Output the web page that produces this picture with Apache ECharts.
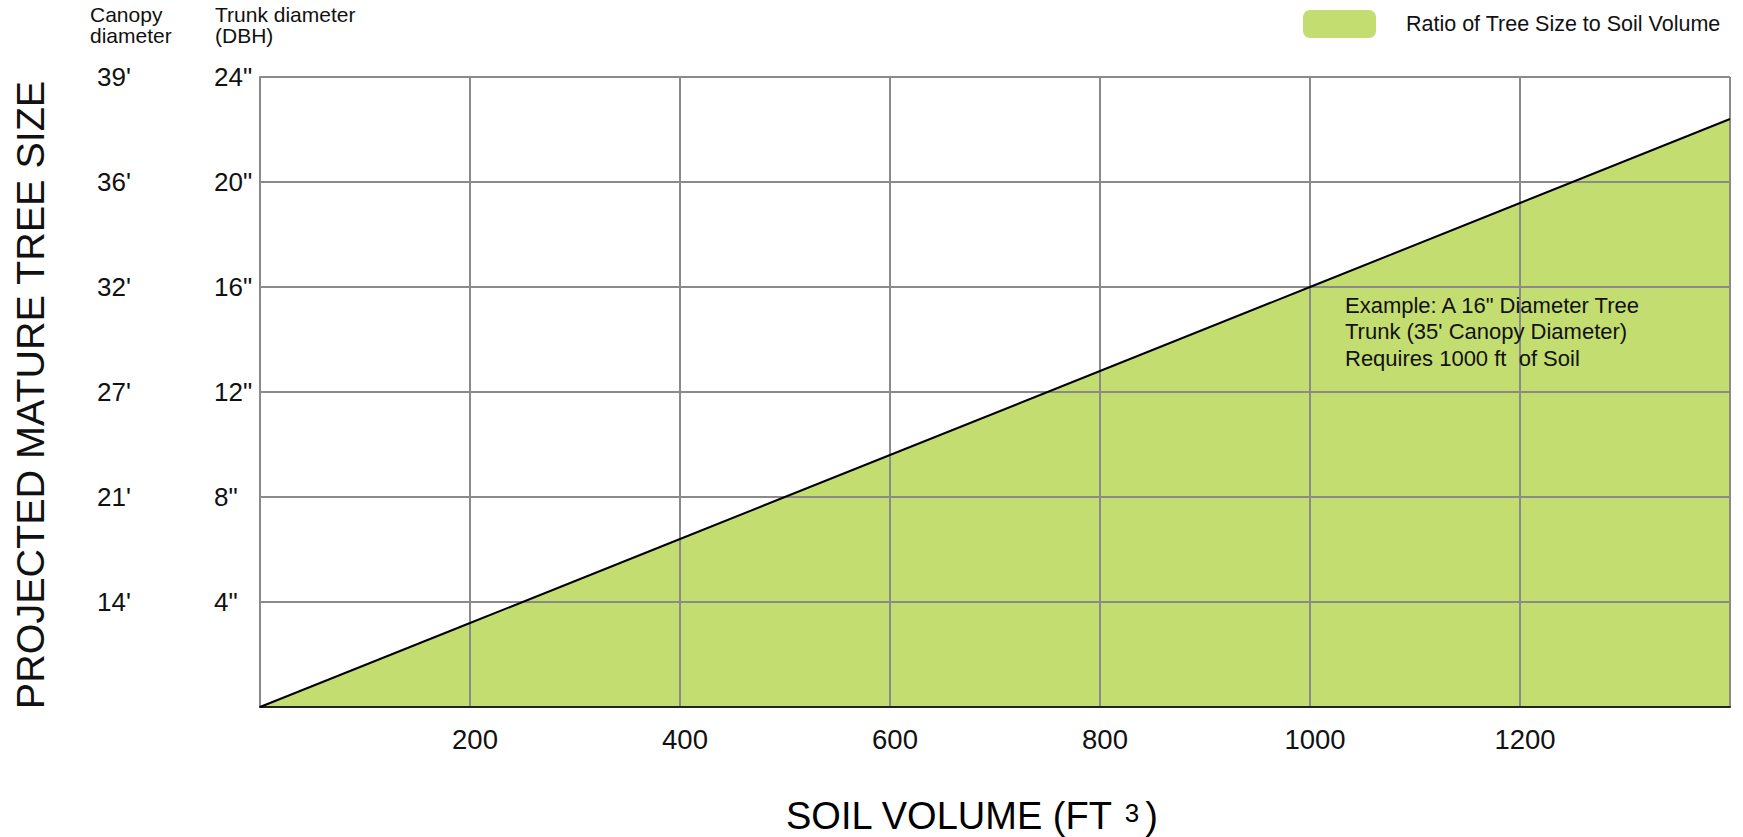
<!DOCTYPE html>
<html>
<head>
<meta charset="utf-8">
<script src="https://cdn.jsdelivr.net/npm/echarts@6/dist/echarts.min.js"></script>
<style>
html,body{margin:0;padding:0;background:#fff;}
#chart{width:1743px;height:837px;}
</style>
</head>
<body>
<div id="chart"></div>
<script>
// ---- data ----
var soilVolume = [0, 200, 400, 600, 800, 1000, 1200, 1400];          // ft^3
var trunkDiameter = [0, 3.2, 6.4, 9.6, 12.8, 16, 19.2, 22.4];        // inches (DBH)
var xTickLabels = ['', '200', '400', '600', '800', '1000', '1200', ''];
var trunkTickLabels = ['', '4"', '8"', '12"', '16"', '20"', '24"'];
var canopyTickLabels = ['', "14'", "21'", "27'", "32'", "36'", "39'"];
var seriesName = 'Ratio of Tree Size to Soil Volume';
var noteLines = ['Example: A 16" Diameter Tree', "Trunk (35' Canopy Diameter)", 'Requires 1000 ft  of Soil'];
var notePoint = [1000, 16];

var FONT = "'Liberation Sans', Arial, sans-serif";
var pts = soilVolume.map(function (v, i) { return [v, trunkDiameter[i]]; });

var chart = echarts.init(document.getElementById('chart'), null, {renderer: 'svg'});
var option = {
  backgroundColor: '#ffffff',
  textStyle: {fontFamily: FONT},
  animation: false,
  grid: {left: 260, right: 13, top: 77, bottom: 130, containLabel: false},
  legend: {
    data: [{name: seriesName, icon: 'roundRect', itemStyle: {color: '#c4dd70', borderWidth: 0}}],
    left: 1298, top: 5,
    itemWidth: 73, itemHeight: 28,
    lineStyle: {width: 0, opacity: 0},
    textStyle: {fontSize: 21.5, color: '#111', fontFamily: FONT, padding: [0, 0, 0, 25]},
    selectedMode: false
  },
  xAxis: {
    type: 'value', min: 0, max: 1400, interval: 200, z: 3,
    axisLine: {show: true, onZero: false, lineStyle: {color: '#222', width: 2}},
    axisTick: {show: false},
    splitLine: {show: true, lineStyle: {color: '#8a8a8a', width: 2}},
    axisLabel: {
      fontSize: 27.5, color: '#111', fontFamily: FONT, margin: 18, padding: [0, 0, 0, 10],
      formatter: function (v) { return xTickLabels[Math.round(v / 200)] || ''; }
    }
  },
  yAxis: [{
    type: 'value', min: 0, max: 24, interval: 4, z: 3, position: 'left',
    axisLine: {show: true, lineStyle: {color: '#8a8a8a', width: 2}},
    axisTick: {show: false},
    splitLine: {show: true, lineStyle: {color: '#8a8a8a', width: 2}},
    axisLabel: {
      fontSize: 26, color: '#111', fontFamily: FONT, align: 'left', margin: 46,
      formatter: function (v) { return trunkTickLabels[Math.round(v / 4)] || ''; }
    }
  }, {
    type: 'value', min: 0, max: 24, interval: 4, z: 3, position: 'left',
    axisLine: {show: false}, axisTick: {show: false}, splitLine: {show: false},
    axisLabel: {
      fontSize: 26, color: '#111', fontFamily: FONT, align: 'left', margin: 163,
      formatter: function (v) { return canopyTickLabels[Math.round(v / 4)] || ''; }
    }
  }],
  series: [{
    name: seriesName, type: 'line', data: pts, z: 1,
    symbol: 'none', silent: true,
    itemStyle: {color: '#c4dd70'},
    lineStyle: {width: 0, opacity: 0},
    areaStyle: {color: '#c4dd70', opacity: 1}
  }, {
    name: 'line', type: 'line', data: pts, z: 5,
    symbol: 'none', silent: true,
    lineStyle: {color: '#000', width: 2}
  }],
  graphic: []
};
chart.setOption(option);

var np = chart.convertToPixel({gridIndex: 0}, notePoint);
chart.setOption({
  graphic: [{
    type: 'text', left: 90, top: 4,
    style: {text: 'Canopy\ndiameter', font: '21px ' + FONT, fill: '#111', lineHeight: 21}
  }, {
    type: 'text', left: 215, top: 4,
    style: {text: 'Trunk diameter\n(DBH)', font: '21px ' + FONT, fill: '#111', lineHeight: 21}
  }, {
    type: 'text', x: 30, y: 395, rotation: Math.PI / 2,
    style: {text: 'PROJECTED MATURE TREE SIZE', font: '39.5px ' + FONT, fill: '#111', align: 'center', verticalAlign: 'middle'}
  }, {
    type: 'text', x: 786, y: 816,
    style: {
      text: '{a|SOIL VOLUME (FT }{s|3}{c|)}',
      verticalAlign: 'middle', align: 'left',
      rich: {
        a: {fontSize: 38, fontFamily: FONT, color: '#111'},
        s: {fontSize: 26, fontFamily: FONT, color: '#111', padding: [0, 0, 7, 1]},
        c: {fontSize: 38, fontFamily: FONT, color: '#111', padding: [0, 0, 0, 6]}
      }
    }
  }, {
    type: 'text', x: np[0] + 35, y: np[1] + 5, z: 10,
    style: {text: noteLines.join('\n'), font: '22px ' + FONT, fill: '#111', lineHeight: 26.5}
  }]
});
</script>
</body>
</html>
